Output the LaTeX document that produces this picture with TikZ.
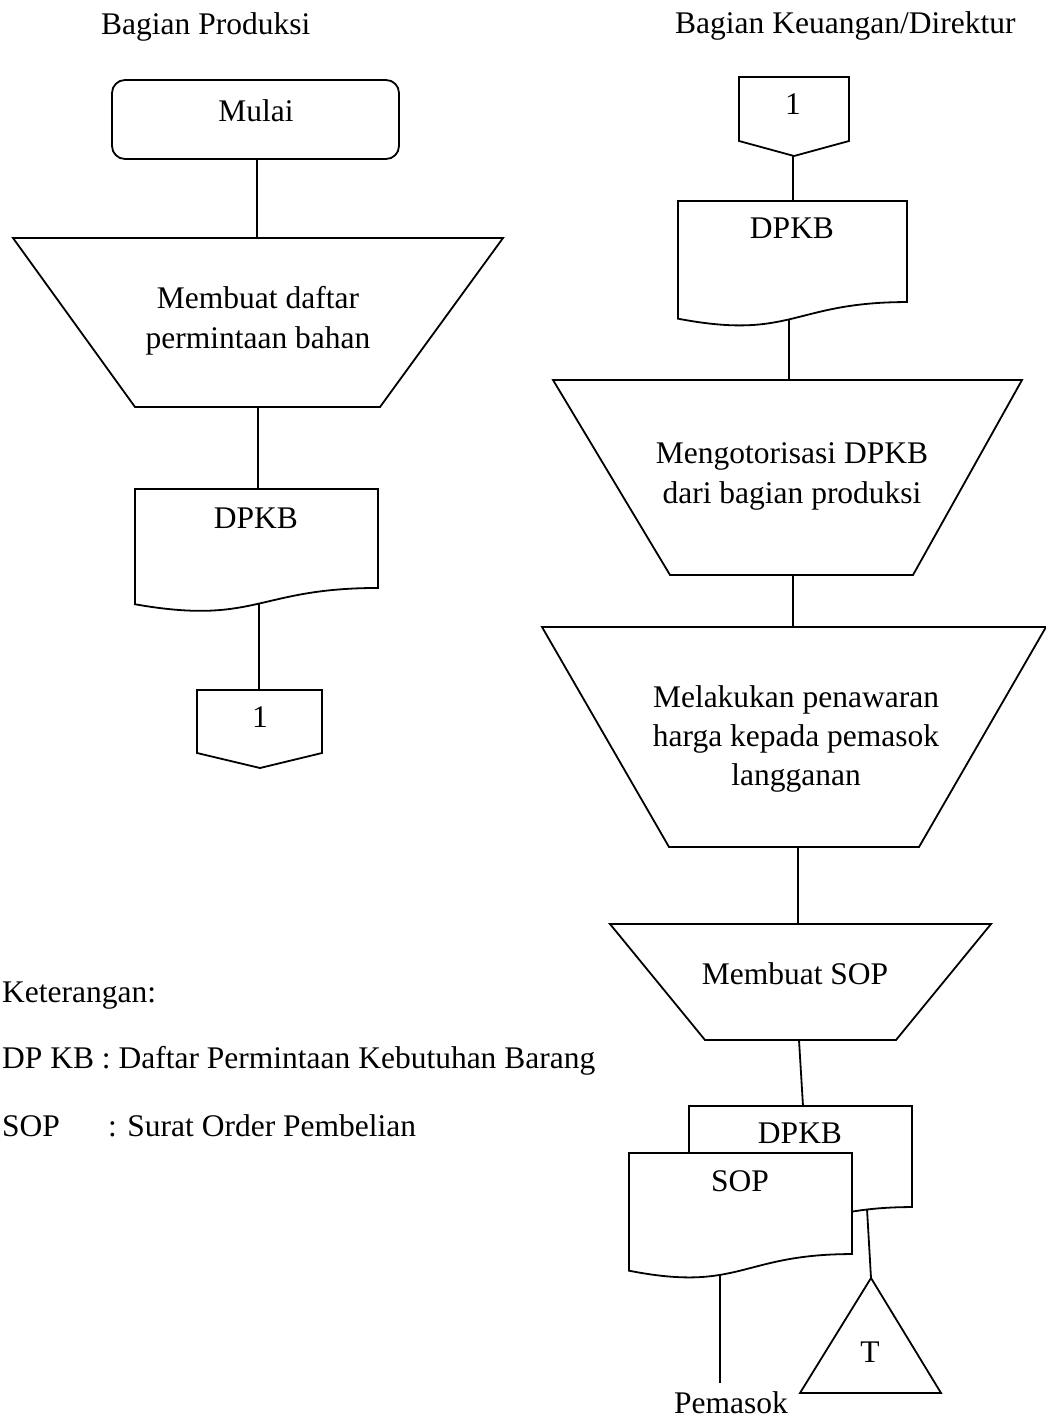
\documentclass[tikz,border=0pt]{standalone}
\usepackage{fontspec}
\setmainfont{Liberation Serif}
\tikzset{
  shp/.style={draw=black, line width=1.8pt, fill=white, line join=miter},
  conn/.style={draw=black, line width=1.8pt},
  txt/.style={font=\fontsize{31.5}{40}\selectfont, inner sep=0pt, anchor=base},
  ltxt/.style={txt, anchor=base west},
  startbox/.style={draw=black, line width=1.8pt, rounded corners=13pt, inner sep=0pt},
}
% document shape: name, left, top, width, height
\newcommand\docshape[5]{%
  \draw[shp] (#2,#3) -- ({#2+#4},#3) -- ({#2+#4},{#3+0.802*#5})
    .. controls ({#2+0.5*#4},{#3+0.802*#5}) and ({#2+0.5*#4},{#3+1.1075*#5}) .. (#2,{#3+0.934*#5}) -- cycle;
  \coordinate (#1-n) at ({#2+0.5*#4},#3);
}
\begin{document}
\begin{tikzpicture}[x=1pt,y=-1pt]
\fill[white] (0,0) rectangle (1046,1418);
\path[use as bounding box] (0,0) rectangle (1046,1418);

% headers
\node[ltxt] (h1) at (101,35) {Bagian Produksi};
\node[ltxt] (h2) at (675,34) {Bagian Keuangan/Direktur};

% ---------- left column ----------
\node[startbox, minimum width=287pt, minimum height=79pt] (mulai) at (255.5,119.5) {};
\node[txt] (mulaiT) at (256,122) {Mulai};
\coordinate (mulai-out) at (257,159);

\draw[shp] (13,238) -- (503,238) -- (380,407) -- (135,407) -- cycle;
\node[txt] (op1a) at (258,308) {Membuat daftar};
\node[txt] (op1b) at (258,348) {permintaan bahan};
\coordinate (op1-in) at (257,238);
\coordinate (op1-out) at (258,407);

\docshape{doc1}{135}{489}{243}{123.4}
\node[txt] (doc1T) at (256,528) {DPKB};
\coordinate (doc1-in) at (258,489);
\coordinate (doc1-out) at (259,604);

\draw[shp] (197,690) -- (322,690) -- (322,753) -- (260,768) -- (197,753) -- cycle;
\node[txt] (off1T) at (260,727) {1};
\coordinate (off1-in) at (259,690);

\draw[conn] (mulai-out) -- (op1-in);
\draw[conn] (op1-out) -- (doc1-in);
\draw[conn] (doc1-out) -- (off1-in);

% ---------- right column ----------
\draw[shp] (739,77) -- (849,77) -- (849,141) -- (794,156) -- (739,141) -- cycle;
\node[txt] (off2T) at (793,115) {1};
\coordinate (off2-out) at (793,156);

\docshape{doc2}{678}{201}{229}{126}
\node[txt] (doc2T) at (792,238) {DPKB};
\coordinate (doc2-in) at (793,201);
\coordinate (doc2-out) at (789,319);

\draw[shp] (553,380) -- (1022,380) -- (913,575) -- (670,575) -- cycle;
\node[txt] (op2a) at (792,463) {Mengotorisasi DPKB};
\node[txt] (op2b) at (792,503) {dari bagian produksi};
\coordinate (op2-in) at (789,380);
\coordinate (op2-out) at (793,575);

\draw[shp] (542,627) -- (1046,627) -- (919,847) -- (669,847) -- cycle;
\node[txt] (op3a) at (796,707) {Melakukan penawaran};
\node[txt] (op3b) at (796,746) {harga kepada pemasok};
\node[txt] (op3c) at (796,785) {langganan};
\coordinate (op3-in) at (793,627);
\coordinate (op3-out) at (798,847);

\draw[shp] (610,924) -- (991,924) -- (896,1040) -- (705,1040) -- cycle;
\node[txt] (op4T) at (795,984) {Membuat SOP};
\coordinate (op4-in) at (798,924);
\coordinate (op4-out) at (799,1040);

\docshape{doc3}{689}{1106}{223}{126}
\node[txt] (doc3T) at (800,1143) {DPKB};
\coordinate (doc3-in) at (803,1106);
\coordinate (doc3-out) at (867,1209);

\docshape{doc4}{629}{1153}{223}{126}
\node[txt] (doc4T) at (740,1191) {SOP};
\coordinate (doc4-out) at (720,1275);

\draw[shp] (871,1278) -- (941,1393) -- (800,1393) -- cycle;
\node[txt] (arsipT) at (870,1362) {T};
\coordinate (arsip-in) at (871,1278);

\node[txt] (pemasok) at (731,1413) {Pemasok};
\coordinate (pemasok-in) at (720,1383);

\draw[conn] (off2-out) -- (doc2-in);
\draw[conn] (doc2-out) -- (op2-in);
\draw[conn] (op2-out) -- (op3-in);
\draw[conn] (op3-out) -- (op4-in);
\draw[conn] (op4-out) -- (doc3-in);
\draw[conn] (doc3-out) -- (arsip-in);
\draw[conn] (doc4-out) -- (pemasok-in);

% ---------- legend ----------
\node[ltxt] (ket) at (2,1002) {Keterangan:};
\node[ltxt] (leg1) at (2,1068) {DP KB : Daftar Permintaan Kebutuhan Barang};
\node[ltxt] (leg2a) at (2,1136) {SOP};
\node[ltxt] (leg2b) at (108,1136) {: Surat Order Pembelian};
\end{tikzpicture}
\end{document}
